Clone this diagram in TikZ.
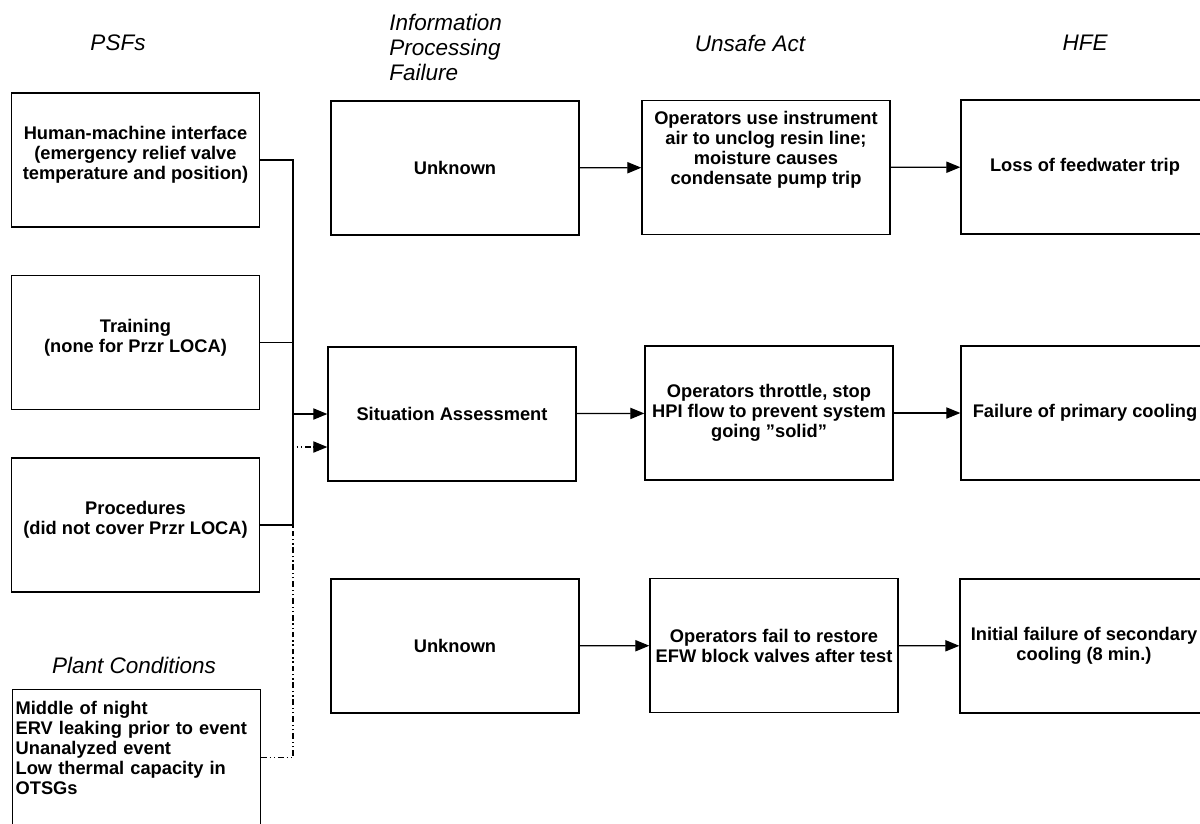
\documentclass[tikz,border=0pt]{standalone}
\usepackage{fontspec}
\setmainfont{Liberation Sans}
\usetikzlibrary{arrows.meta}

\begin{document}
\begin{tikzpicture}[x=0.025cm, y=-0.025cm, line width=0.9pt,
  box node/.style={draw, minimum width=6.2cm, minimum height=3.35cm, align=center, inner sep=1pt, font=\fontsize{13}{14.2}\selectfont\bfseries},
  head node/.style={font=\fontsize{16}{17.8}\selectfont\itshape, align=left},
  arrow line/.style={-{Triangle[length=10pt,width=8pt]}},
  cond line/.style={dash pattern=on 4pt off 2pt on 1pt off 2pt on 1pt off 2pt}]

\path[use as bounding box, clip] (0,0) rectangle (1200,823);

\node[head node](psfh) at (118,43) {PSFs};
\node[head node, anchor=west](ipfh) at (384,47) {Information\\Processing\\Failure};
\node[head node](uah) at (750,43) {Unsafe Act};
\node[head node](hfeh) at (1085,43) {HFE};
\node[head node](pch) at (134,665) {Plant Conditions};

\node[box node](psf1) at (135.5,160) {Human-machine interface\\(emergency relief valve\\temperature and position)\\[-0.15cm]\mbox{}};
\node[box node](psf2) at (135.5,342.5) {Training\\(none for Przr LOCA)\\[-0.15cm]\mbox{}};
\node[box node](psf3) at (135.5,525) {Procedures\\(did not cover Przr LOCA)\\[-0.15cm]\mbox{}};
\node[box node, anchor=north west, align=left, text width=6.05cm, minimum height=3.4cm](plant) at (12,689) {Middle of night\\ERV leaking prior to event\\Unanalyzed event\\Low thermal capacity in\\OTSGs\\\mbox{}};

\node[box node](ipf1) at (455,168) {Unknown};
\node[box node](ipf2) at (452,414) {Situation Assessment};
\node[box node](ipf3) at (455,646) {Unknown};

\node[box node](ua1) at (766,167.5) {Operators use instrument\\air to unclog resin line;\\moisture causes\\condensate pump trip\\\mbox{}\\\mbox{}};
\node[box node](ua2) at (769,413) {Operators throttle, stop\\HPI flow to prevent system\\going "solid"};
\node[box node](ua3) at (774,645.5) {Operators fail to restore\\EFW block valves after test};

\node[box node](hfe1) at (1085,167) {Loss of feedwater trip};
\node[box node](hfe2) at (1085,413) {Failure of primary cooling};
\node[box node](hfe3) at (1084,646) {Initial failure of secondary\\cooling (8 min.)};

\coordinate (bus) at (293,0);
\coordinate (sain) at ([yshift=-0.825cm]ipf2.west);

\draw (psf1.east) -- (psf1.east -| bus) -- (psf3.east -| bus) -- (psf3.east);
\draw (psf2.east) -- (psf2.east -| bus);
\draw[arrow line] (bus |- ipf2.west) -- (ipf2.west);
\draw[cond line, arrow line] (plant.east) -- (plant.east -| bus) -- (bus |- sain) -- (sain);

\draw[arrow line] (ipf1) -- (ua1);
\draw[arrow line] (ua1) -- (hfe1);
\draw[arrow line] (ipf2) -- (ua2);
\draw[arrow line] (ua2) -- (hfe2);
\draw[arrow line] (ipf3) -- (ua3);
\draw[arrow line] (ua3) -- (hfe3);

\end{tikzpicture}
\end{document}
